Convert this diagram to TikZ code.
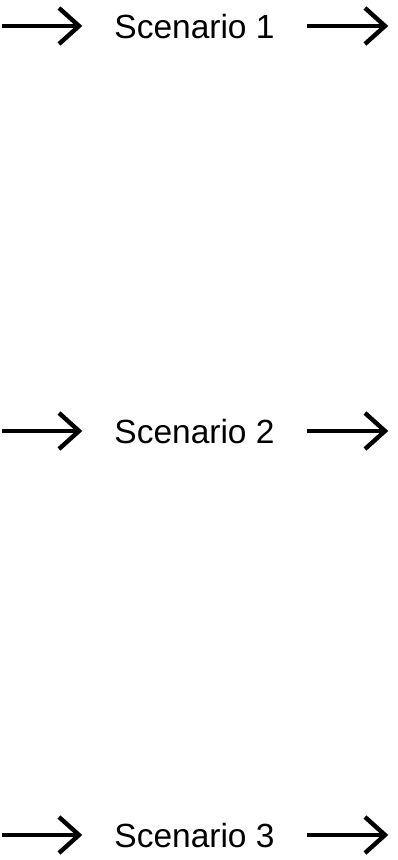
\documentclass[tikz,border=0pt]{standalone}
\usepackage{fontspec}
\setmainfont{Liberation Sans}
\usetikzlibrary{calc}
\begin{document}
\begin{tikzpicture}[x=1pt,y=-1pt,
  conn/.style={line width=4.4pt, line join=miter},
  label/.style={font=\fontsize{33.5}{38}\selectfont, anchor=base, inner sep=0pt}]
\useasboundingbox (0,0) rectangle (398,860);
\foreach \r/\y/\n in {1/26/1, 2/431/2, 3/835/3} {
  \coordinate (a\r) at (2,\y);
  \coordinate (b\r) at (79,\y);
  \coordinate (c\r) at (307,\y);
  \coordinate (d\r) at (385,\y);
  \node[label] (s\r) at (194.5,\y+12.5) {Scenario \n};
  \draw[conn] (a\r) -- (b\r);
  \draw[conn] ($(b\r)+(-20,-18)$) -- (b\r) -- ($(b\r)+(-20,18)$);
  \draw[conn] (c\r) -- (d\r);
  \draw[conn] ($(d\r)+(-20,-18)$) -- (d\r) -- ($(d\r)+(-20,18)$);
}
\end{tikzpicture}
\end{document}
